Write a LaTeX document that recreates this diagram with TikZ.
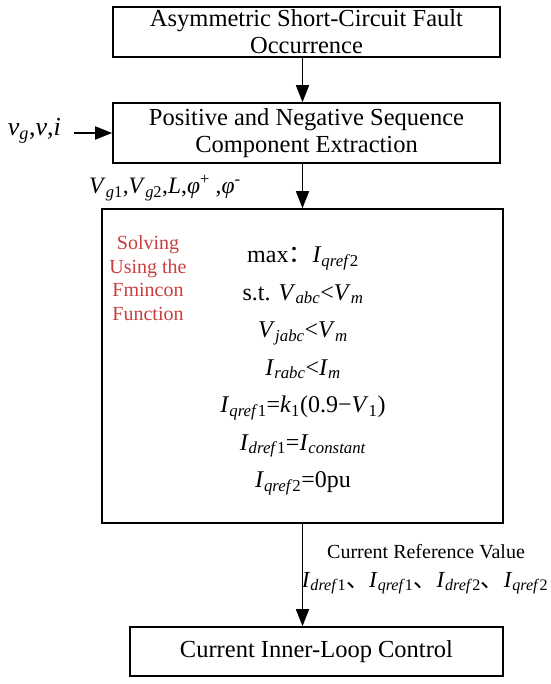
\documentclass[tikz,border=0pt]{standalone}
\usepackage{fontspec}
\setmainfont{Liberation Serif}
\newfontfamily\cjk{Noto Sans CJK SC}
\usetikzlibrary{arrows.meta}
\usepackage{xcolor}
\definecolor{solvered}{RGB}{200,62,62}
\newcommand{\vsub}[2]{\textit{#1}\textsubscript{#2}}

\begin{document}
\begin{tikzpicture}[x=1pt,y=-1pt,
  box/.style={draw,line width=1.6pt,inner sep=0pt,align=center,
    font=\fontsize{24.5}{27}\selectfont},
  flow/.style={line width=1.6pt,-{Triangle[length=17pt,width=13pt]}},
  lbl/.style={inner sep=0pt,font=\fontsize{20}{29}\selectfont}]
  \useasboundingbox (0,0) rectangle (550,684);
  \node[box,minimum width=387pt,minimum height=50pt] (fault) at (306.5,32)
    {Asymmetric Short-Circuit Fault\\Occurrence};
  \node[box,minimum width=387pt,minimum height=60pt] (seq) at (306.5,133)
    {Positive and Negative Sequence\\Component Extraction};
  \node[box,minimum width=401pt,minimum height=314pt] (solve) at (302.5,366) {};
  \node[box,minimum width=373pt,minimum height=49pt] (inner) at (316.5,651.5)
    {Current Inner-Loop Control};
  % text inside the solver box
  \node[align=center,text=solvered,inner sep=0pt,
    font=\fontsize{20}{23.5}\selectfont] (method) at (148,278)
    {Solving\\Using the\\Fmincon\\Function};
  \node[align=center,inner sep=0pt,font=\fontsize{24}{37.5}\selectfont] (model) at (303,371)
    {max{\cjk ：}\vsub{I}{\textit{qref}2}\\
     s.t. \vsub{V}{\textit{abc}}<\vsub{V}{\textit{m}}\\
     \vsub{V}{\textit{jabc}}<\vsub{V}{\textit{m}}\\
     \vsub{I}{\textit{rabc}}<\vsub{I}{\textit{m}}\\
     \vsub{I}{\textit{qref}1}=\vsub{k}{1}(0.9−\vsub{V}{1})\\
     \vsub{I}{\textit{dref}1}=\vsub{I}{\textit{constant}}\\
     \vsub{I}{\textit{qref}2}=0pu};
  % signals
  \coordinate (vin) at (74,133);
  \node[lbl,anchor=east,font=\fontsize{26}{30}\selectfont] (vlbl) at (61,131)
    {\vsub{v}{\textit{g}},\textit{v},\textit{i}};
  \node[lbl,anchor=base west,font=\fontsize{23.5}{28}\selectfont] (seqout) at (89,194)
    {\vsub{V}{\textit{g}1},\vsub{V}{\textit{g}2},\textit{L},\textit{φ}\textsuperscript{+} ,\textit{φ}\textsuperscript{-}};
  \node[lbl,anchor=base] (irefname) at (426,558) {Current Reference Value};
  \node[lbl,anchor=base,font=\fontsize{23}{28}\selectfont] (irefval) at (425,587)
    {\vsub{I}{\textit{dref}1}{\cjk 、}\vsub{I}{\textit{qref}1}{\cjk 、}\vsub{I}{\textit{dref}2}{\cjk 、}\vsub{I}{\textit{qref}2}};
  \draw[flow] (fault.south -| solve.north) -- (seq.north -| solve.north);
  \draw[flow] (vin) -- (seq.west);
  \draw[flow] (seq.south -| solve.north) -- (solve.north);
  \draw[flow] (solve.south) -- (inner.north -| solve.south);
\end{tikzpicture}
\end{document}
